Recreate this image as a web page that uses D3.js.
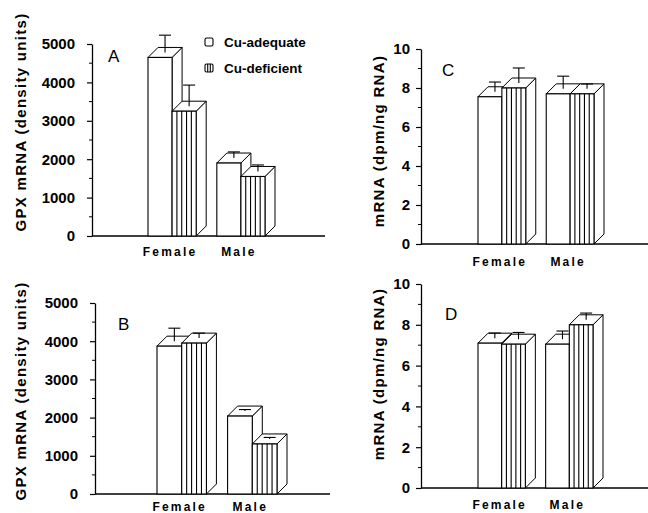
<!DOCTYPE html>
<html>
<head>
<meta charset="utf-8">
<script src="https://cdn.jsdelivr.net/npm/d3@7"></script>
<style>
  body { margin: 0; background: #fff; }
  svg { display: block; font-family: "Liberation Sans", Arial, sans-serif; }
</style>
</head>
<body>
<svg width="648" height="513"></svg>
<script>
// data
const categories = ["Female", "Male"];
const series = ["Cu-adequate", "Cu-deficient"];
const gpxTicks = [0, 1000, 2000, 3000, 4000, 5000];
const mrnaTicks = [0, 2, 4, 6, 8, 10];

// panel A : GPX mRNA, density units
const aAdequate = [4650, 1900], aAdequateSE = [450, 160];
const aDeficient = [3250, 1550], aDeficientSE = [550, 170];
// panel B
const bAdequate = [3870, 2040], bAdequateSE = [340, 40];
const bDeficient = [3950, 1310], bDeficientSE = [130, 40];
// panel C : mRNA, dpm/ng RNA
const cAdequate = [7.55, 7.7], cAdequateSE = [0.5, 0.65];
const cDeficient = [8.0, 7.7], cDeficientSE = [0.77, 0.25];
// panel D
const dAdequate = [7.1, 7.05], dAdequateSE = [0.25, 0.4];
const dDeficient = [7.05, 8.0], dDeficientSE = [0.33, 0.33];

const svg = d3.select("svg");
const D = 10; // depth of the 3d boxes

const panels = [
  {letter: "A", vals: [aAdequate, aDeficient], se: [aAdequateSE, aDeficientSE], ticks: gpxTicks, minor: 500,
   label: "GPX mRNA (density units)", x0: 92, y0: 236, yTop: 44, xEnd: 325, xr: [148, 265], pad: 12,
   labX: 26, labY: 122, letX: 108, letY: 62, catY: 256, legend: true},
  {letter: "B", vals: [bAdequate, bDeficient], se: [bAdequateSE, bDeficientSE], ticks: gpxTicks, minor: 500,
   label: "GPX mRNA (density units)", x0: 95, y0: 494, yTop: 303, xEnd: 330, xr: [157, 277], pad: 12,
   labX: 26, labY: 391, letX: 118, letY: 330, catY: 511},
  {letter: "C", vals: [cAdequate, cDeficient], se: [cAdequateSE, cDeficientSE], ticks: mrnaTicks, minor: 1,
   label: "mRNA (dpm/ng RNA)", x0: 421, y0: 244, yTop: 49, xEnd: 648, xr: [478, 594], pad: 6,
   labX: 384, labY: 141, letX: 442, letY: 76, catY: 266},
  {letter: "D", vals: [dAdequate, dDeficient], se: [dAdequateSE, dDeficientSE], ticks: mrnaTicks, minor: 1,
   label: "mRNA (dpm/ng RNA)", x0: 421, y0: 488, yTop: 284, xEnd: 648, xr: [478, 593], pad: 6,
   labX: 384, labY: 374, letX: 445, letY: 320, catY: 509}
];

function drawBox(g, fx, w, top, bottom, hatched) {
  g.append("polygon")
    .attr("points", [[fx + w, top], [fx + w + D, top - D], [fx + w + D, bottom - D], [fx + w, bottom]].join(" "))
    .attr("fill", "#fff").attr("stroke", "#000").attr("stroke-width", 1);
  g.append("polygon")
    .attr("points", [[fx, top], [fx + D, top - D], [fx + w + D, top - D], [fx + w, top]].join(" "))
    .attr("fill", "#fff").attr("stroke", "#000").attr("stroke-width", 1);
  g.append("rect")
    .attr("x", fx).attr("y", top).attr("width", w).attr("height", bottom - top)
    .attr("fill", "#fff").attr("stroke", "#000").attr("stroke-width", 1.1);
  if (hatched) {
    d3.range(1, 5).forEach(k => {
      g.append("line")
        .attr("x1", fx + w * k / 5).attr("x2", fx + w * k / 5)
        .attr("y1", top).attr("y2", bottom)
        .attr("stroke", "#000").attr("stroke-width", 1.1);
    });
  }
}

panels.forEach(p => {
  const g = svg.append("g");
  const ymax = p.ticks[p.ticks.length - 1];
  const y = d3.scaleLinear().domain([0, ymax]).range([p.y0, p.yTop]);
  const x = d3.scaleBand().domain(categories).range(p.xr).paddingInner(0.3);
  const xs = d3.scaleBand().domain(series).range([0, x.bandwidth()]);

  // minor ticks
  g.append("g").selectAll("line")
    .data(d3.range(p.minor, ymax, p.minor * 2))
    .join("line")
      .attr("x1", p.x0 - 3).attr("x2", p.x0)
      .attr("y1", d => y(d)).attr("y2", d => y(d))
      .attr("stroke", "#000").attr("stroke-width", 1);

  const yAxis = g.append("g")
    .attr("transform", `translate(${p.x0},0)`)
    .call(d3.axisLeft(y).tickValues(p.ticks).tickFormat(d3.format("d"))
      .tickSize(5).tickSizeOuter(0).tickPadding(p.pad));
  yAxis.select(".domain").attr("stroke-width", 1.3);
  yAxis.selectAll(".tick line").attr("stroke-width", 1.2);
  yAxis.selectAll(".tick text")
    .attr("font-family", "Liberation Sans, Arial, sans-serif")
    .attr("font-size", 15).attr("font-weight", "bold").attr("fill", "#000");

  // x baseline
  g.append("line")
    .attr("x1", p.x0).attr("x2", p.xEnd).attr("y1", p.y0).attr("y2", p.y0)
    .attr("stroke", "#000").attr("stroke-width", 1.3);

  // bars
  categories.forEach((c, ci) => {
    series.forEach((s, si) => {
      const v = p.vals[si][ci], e = p.se[si][ci];
      const fx = x(c) + xs(s), w = xs.bandwidth();
      drawBox(g, fx, w, y(v), y(0), si === 1);
      const cx = fx + w / 2 + D / 2;
      g.append("line")
        .attr("x1", cx).attr("x2", cx)
        .attr("y1", y(v) - D / 2).attr("y2", y(v + e) - D / 2)
        .attr("stroke", "#000").attr("stroke-width", 1.1);
      g.append("line")
        .attr("x1", cx - 6).attr("x2", cx + 6)
        .attr("y1", y(v + e) - D / 2).attr("y2", y(v + e) - D / 2)
        .attr("stroke", "#000").attr("stroke-width", 1.1);
    });
    g.append("text")
      .attr("x", x(c) + x.bandwidth() / 2 - 2).attr("y", p.catY)
      .attr("text-anchor", "middle")
      .attr("font-size", 12).attr("font-weight", "bold").attr("letter-spacing", 2.2)
      .text(c);
  });

  // y label
  g.append("text")
    .attr("transform", `translate(${p.labX},${p.labY}) rotate(-90)`)
    .attr("text-anchor", "middle")
    .attr("font-size", 15).attr("font-weight", "bold").attr("letter-spacing", 1.3)
    .text(p.label);

  // panel letter
  g.append("text")
    .attr("x", p.letX).attr("y", p.letY)
    .attr("font-size", 17)
    .text(p.letter);

  if (p.legend) {
    const lg = g.append("g");
    series.forEach((s, i) => {
      const ly = 38 + i * 26;
      lg.append("rect").attr("x", 205).attr("y", ly).attr("width", 8).attr("height", 8).attr("rx", 1.5)
        .attr("fill", "#fff").attr("stroke", "#000").attr("stroke-width", 1.1);
      if (i === 1) {
        [207.7, 210.3].forEach(lx => lg.append("line")
          .attr("x1", lx).attr("x2", lx).attr("y1", ly).attr("y2", ly + 8)
          .attr("stroke", "#000").attr("stroke-width", 1.1));
      }
      lg.append("text").attr("x", 224).attr("y", ly + 9)
        .attr("font-size", 13.5).attr("font-weight", "bold")
        .text(s);
    });
  }
});
</script>
</body>
</html>
